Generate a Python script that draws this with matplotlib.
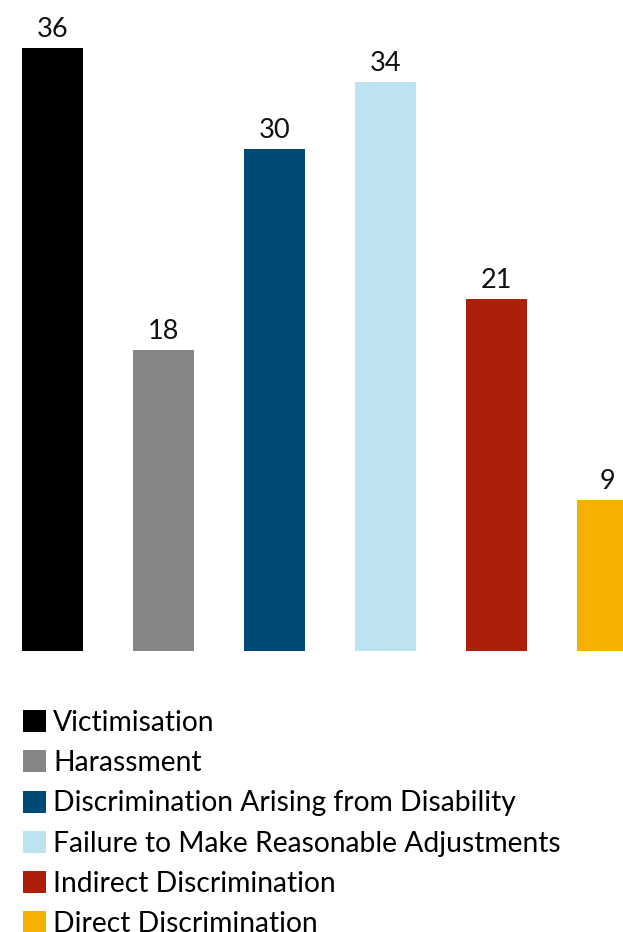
import matplotlib
matplotlib.use("Agg")
import matplotlib.pyplot as plt
from matplotlib.patches import Patch

categories = [
    "Victimisation",
    "Harassment",
    "Discrimination Arising from Disability",
    "Failure to Make Reasonable Adjustments",
    "Indirect Discrimination",
    "Direct Discrimination",
]
values = [36, 18, 30, 34, 21, 9]
colors = ["#000000", "#878586", "#004a76", "#bde3f1", "#ae1f0a", "#f6b100"]

plt.rcParams["font.family"] = ["Lato", "DejaVu Sans"]

W, H = 623, 932
fig = plt.figure(figsize=(W / 100, H / 100), dpi=100)

# axes spans from top of figure down to the bar baseline
base_px = 651
ax = fig.add_axes([0, (H - base_px) / H, 1, base_px / H])

x = list(range(len(values)))
ax.bar(x, values, width=0.55, color=colors)
for xi, v in zip(x, values):
    ax.text(xi, v + 0.35, str(v), ha="center", va="bottom", fontsize=19.5, color="#111111")

ax.set_xlim(-52.5 / 111, (W - 52.5) / 111)
ax.set_ylim(0, base_px / 16.75)
ax.axis("off")

handles = [Patch(facecolor=c, edgecolor="none") for c in colors]
fig.legend(handles, categories, loc="upper left", bbox_to_anchor=(23 / W, 1 - 710 / H),
           frameon=False, fontsize=20.3, handlelength=0.82, handleheight=0.82,
           handletextpad=0.25, labelspacing=0.505, borderaxespad=0, borderpad=0)

fig.savefig("out.png", dpi=100)
